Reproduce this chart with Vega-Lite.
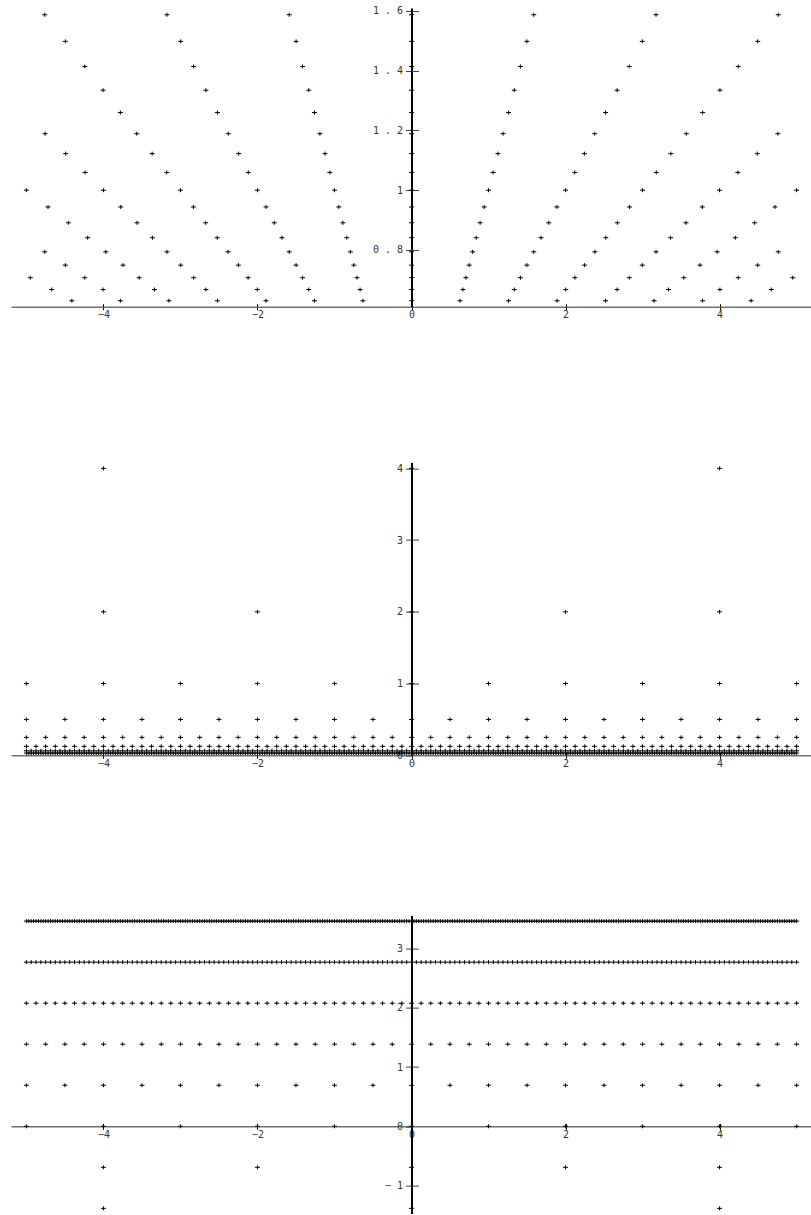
{
"$schema": "https://vega.github.io/schema/vega-lite/v6.json",
"padding": {"left": 11, "top": 5, "right": 0, "bottom": 0},
"autosize": {"type": "pad"},
"bounds": "flush",
"spacing": 155.6,
"config": {"view": {"stroke": null}, "axis": {"grid": false, "labelFont": "DejaVu Sans Mono", "labelFontSize": 10, "labelColor": "#333"}},
"datasets": {
"levels": [{"k":5,"p":0.03125,"l":3.4657},{"k":4,"p":0.0625,"l":2.7726},{"k":3,"p":0.125,"l":2.0794},{"k":2,"p":0.25,"l":1.3863},{"k":1,"p":0.5,"l":0.6931},{"k":0,"p":1,"l":0},{"k":-1,"p":2,"l":-0.6931},{"k":-2,"p":4,"l":-1.3863}],
"twelfth": [
{"x":-4.40972,"y":0.62996},{"x":-3.77976,"y":0.62996},{"x":-3.1498,"y":0.62996},{"x":-2.51984,"y":0.62996},{"x":-1.88988,"y":0.62996},{"x":-1.25992,"y":0.62996},{"x":-0.62996,"y":0.62996},{"x":0,"y":0.62996},{"x":0.62996,"y":0.62996},{"x":1.25992,"y":0.62996},{"x":1.88988,"y":0.62996},{"x":2.51984,"y":0.62996},{"x":3.1498,"y":0.62996},{"x":3.77976,"y":0.62996},{"x":4.40972,"y":0.62996},
{"x":-4.67194,"y":0.66742},{"x":-4.00452,"y":0.66742},{"x":-3.3371,"y":0.66742},{"x":-2.66968,"y":0.66742},{"x":-2.00226,"y":0.66742},{"x":-1.33484,"y":0.66742},{"x":-0.66742,"y":0.66742},{"x":0,"y":0.66742},{"x":0.66742,"y":0.66742},{"x":1.33484,"y":0.66742},{"x":2.00226,"y":0.66742},{"x":2.66968,"y":0.66742},{"x":3.3371,"y":0.66742},{"x":4.00452,"y":0.66742},{"x":4.67194,"y":0.66742},
{"x":-4.94975,"y":0.70711},{"x":-4.24264,"y":0.70711},{"x":-3.53553,"y":0.70711},{"x":-2.82843,"y":0.70711},{"x":-2.12132,"y":0.70711},{"x":-1.41421,"y":0.70711},{"x":-0.70711,"y":0.70711},{"x":0,"y":0.70711},{"x":0.70711,"y":0.70711},{"x":1.41421,"y":0.70711},{"x":2.12132,"y":0.70711},{"x":2.82843,"y":0.70711},{"x":3.53553,"y":0.70711},{"x":4.24264,"y":0.70711},{"x":4.94975,"y":0.70711},
{"x":-4.49492,"y":0.74915},{"x":-3.74577,"y":0.74915},{"x":-2.99661,"y":0.74915},{"x":-2.24746,"y":0.74915},{"x":-1.49831,"y":0.74915},{"x":-0.74915,"y":0.74915},{"x":0,"y":0.74915},{"x":0.74915,"y":0.74915},{"x":1.49831,"y":0.74915},{"x":2.24746,"y":0.74915},{"x":2.99661,"y":0.74915},{"x":3.74577,"y":0.74915},{"x":4.49492,"y":0.74915},
{"x":-4.7622,"y":0.7937},{"x":-3.9685,"y":0.7937},{"x":-3.1748,"y":0.7937},{"x":-2.3811,"y":0.7937},{"x":-1.5874,"y":0.7937},{"x":-0.7937,"y":0.7937},{"x":0,"y":0.7937},{"x":0.7937,"y":0.7937},{"x":1.5874,"y":0.7937},{"x":2.3811,"y":0.7937},{"x":3.1748,"y":0.7937},{"x":3.9685,"y":0.7937},{"x":4.7622,"y":0.7937},
{"x":-4.20448,"y":0.8409},{"x":-3.36359,"y":0.8409},{"x":-2.52269,"y":0.8409},{"x":-1.68179,"y":0.8409},{"x":-0.8409,"y":0.8409},{"x":0,"y":0.8409},{"x":0.8409,"y":0.8409},{"x":1.68179,"y":0.8409},{"x":2.52269,"y":0.8409},{"x":3.36359,"y":0.8409},{"x":4.20448,"y":0.8409},
{"x":-4.45449,"y":0.8909},{"x":-3.56359,"y":0.8909},{"x":-2.6727,"y":0.8909},{"x":-1.7818,"y":0.8909},{"x":-0.8909,"y":0.8909},{"x":0,"y":0.8909},{"x":0.8909,"y":0.8909},{"x":1.7818,"y":0.8909},{"x":2.6727,"y":0.8909},{"x":3.56359,"y":0.8909},{"x":4.45449,"y":0.8909},
{"x":-4.71937,"y":0.94387},{"x":-3.7755,"y":0.94387},{"x":-2.83162,"y":0.94387},{"x":-1.88775,"y":0.94387},{"x":-0.94387,"y":0.94387},{"x":0,"y":0.94387},{"x":0.94387,"y":0.94387},{"x":1.88775,"y":0.94387},{"x":2.83162,"y":0.94387},{"x":3.7755,"y":0.94387},{"x":4.71937,"y":0.94387},
{"x":-5,"y":1},{"x":-4,"y":1},{"x":-3,"y":1},{"x":-2,"y":1},{"x":-1,"y":1},{"x":0,"y":1},{"x":1,"y":1},{"x":2,"y":1},{"x":3,"y":1},{"x":4,"y":1},{"x":5,"y":1},
{"x":-4.23785,"y":1.05946},{"x":-3.17839,"y":1.05946},{"x":-2.11893,"y":1.05946},{"x":-1.05946,"y":1.05946},{"x":0,"y":1.05946},{"x":1.05946,"y":1.05946},{"x":2.11893,"y":1.05946},{"x":3.17839,"y":1.05946},{"x":4.23785,"y":1.05946},
{"x":-4.48985,"y":1.12246},{"x":-3.36739,"y":1.12246},{"x":-2.24492,"y":1.12246},{"x":-1.12246,"y":1.12246},{"x":0,"y":1.12246},{"x":1.12246,"y":1.12246},{"x":2.24492,"y":1.12246},{"x":3.36739,"y":1.12246},{"x":4.48985,"y":1.12246},
{"x":-4.75683,"y":1.18921},{"x":-3.56762,"y":1.18921},{"x":-2.37841,"y":1.18921},{"x":-1.18921,"y":1.18921},{"x":0,"y":1.18921},{"x":1.18921,"y":1.18921},{"x":2.37841,"y":1.18921},{"x":3.56762,"y":1.18921},{"x":4.75683,"y":1.18921},
{"x":-3.77976,"y":1.25992},{"x":-2.51984,"y":1.25992},{"x":-1.25992,"y":1.25992},{"x":0,"y":1.25992},{"x":1.25992,"y":1.25992},{"x":2.51984,"y":1.25992},{"x":3.77976,"y":1.25992},
{"x":-4.00452,"y":1.33484},{"x":-2.66968,"y":1.33484},{"x":-1.33484,"y":1.33484},{"x":0,"y":1.33484},{"x":1.33484,"y":1.33484},{"x":2.66968,"y":1.33484},{"x":4.00452,"y":1.33484},
{"x":-4.24264,"y":1.41421},{"x":-2.82843,"y":1.41421},{"x":-1.41421,"y":1.41421},{"x":0,"y":1.41421},{"x":1.41421,"y":1.41421},{"x":2.82843,"y":1.41421},{"x":4.24264,"y":1.41421},
{"x":-4.49492,"y":1.49831},{"x":-2.99661,"y":1.49831},{"x":-1.49831,"y":1.49831},{"x":0,"y":1.49831},{"x":1.49831,"y":1.49831},{"x":2.99661,"y":1.49831},{"x":4.49492,"y":1.49831},
{"x":-4.7622,"y":1.5874},{"x":-3.1748,"y":1.5874},{"x":-1.5874,"y":1.5874},{"x":0,"y":1.5874},{"x":1.5874,"y":1.5874},{"x":3.1748,"y":1.5874},{"x":4.7622,"y":1.5874}
],
"lattice": [
{"k":5,"x":-5},{"k":5,"x":-4.96875},{"k":5,"x":-4.9375},{"k":5,"x":-4.90625},{"k":5,"x":-4.875},{"k":5,"x":-4.84375},{"k":5,"x":-4.8125},{"k":5,"x":-4.78125},{"k":5,"x":-4.75},{"k":5,"x":-4.71875},{"k":5,"x":-4.6875},{"k":5,"x":-4.65625},{"k":5,"x":-4.625},{"k":5,"x":-4.59375},{"k":5,"x":-4.5625},{"k":5,"x":-4.53125},{"k":5,"x":-4.5},{"k":5,"x":-4.46875},{"k":5,"x":-4.4375},{"k":5,"x":-4.40625},{"k":5,"x":-4.375},{"k":5,"x":-4.34375},{"k":5,"x":-4.3125},{"k":5,"x":-4.28125},{"k":5,"x":-4.25},{"k":5,"x":-4.21875},{"k":5,"x":-4.1875},{"k":5,"x":-4.15625},{"k":5,"x":-4.125},{"k":5,"x":-4.09375},{"k":5,"x":-4.0625},{"k":5,"x":-4.03125},
{"k":5,"x":-4},{"k":5,"x":-3.96875},{"k":5,"x":-3.9375},{"k":5,"x":-3.90625},{"k":5,"x":-3.875},{"k":5,"x":-3.84375},{"k":5,"x":-3.8125},{"k":5,"x":-3.78125},{"k":5,"x":-3.75},{"k":5,"x":-3.71875},{"k":5,"x":-3.6875},{"k":5,"x":-3.65625},{"k":5,"x":-3.625},{"k":5,"x":-3.59375},{"k":5,"x":-3.5625},{"k":5,"x":-3.53125},{"k":5,"x":-3.5},{"k":5,"x":-3.46875},{"k":5,"x":-3.4375},{"k":5,"x":-3.40625},{"k":5,"x":-3.375},{"k":5,"x":-3.34375},{"k":5,"x":-3.3125},{"k":5,"x":-3.28125},{"k":5,"x":-3.25},{"k":5,"x":-3.21875},{"k":5,"x":-3.1875},{"k":5,"x":-3.15625},{"k":5,"x":-3.125},{"k":5,"x":-3.09375},{"k":5,"x":-3.0625},{"k":5,"x":-3.03125},
{"k":5,"x":-3},{"k":5,"x":-2.96875},{"k":5,"x":-2.9375},{"k":5,"x":-2.90625},{"k":5,"x":-2.875},{"k":5,"x":-2.84375},{"k":5,"x":-2.8125},{"k":5,"x":-2.78125},{"k":5,"x":-2.75},{"k":5,"x":-2.71875},{"k":5,"x":-2.6875},{"k":5,"x":-2.65625},{"k":5,"x":-2.625},{"k":5,"x":-2.59375},{"k":5,"x":-2.5625},{"k":5,"x":-2.53125},{"k":5,"x":-2.5},{"k":5,"x":-2.46875},{"k":5,"x":-2.4375},{"k":5,"x":-2.40625},{"k":5,"x":-2.375},{"k":5,"x":-2.34375},{"k":5,"x":-2.3125},{"k":5,"x":-2.28125},{"k":5,"x":-2.25},{"k":5,"x":-2.21875},{"k":5,"x":-2.1875},{"k":5,"x":-2.15625},{"k":5,"x":-2.125},{"k":5,"x":-2.09375},{"k":5,"x":-2.0625},{"k":5,"x":-2.03125},
{"k":5,"x":-2},{"k":5,"x":-1.96875},{"k":5,"x":-1.9375},{"k":5,"x":-1.90625},{"k":5,"x":-1.875},{"k":5,"x":-1.84375},{"k":5,"x":-1.8125},{"k":5,"x":-1.78125},{"k":5,"x":-1.75},{"k":5,"x":-1.71875},{"k":5,"x":-1.6875},{"k":5,"x":-1.65625},{"k":5,"x":-1.625},{"k":5,"x":-1.59375},{"k":5,"x":-1.5625},{"k":5,"x":-1.53125},{"k":5,"x":-1.5},{"k":5,"x":-1.46875},{"k":5,"x":-1.4375},{"k":5,"x":-1.40625},{"k":5,"x":-1.375},{"k":5,"x":-1.34375},{"k":5,"x":-1.3125},{"k":5,"x":-1.28125},{"k":5,"x":-1.25},{"k":5,"x":-1.21875},{"k":5,"x":-1.1875},{"k":5,"x":-1.15625},{"k":5,"x":-1.125},{"k":5,"x":-1.09375},{"k":5,"x":-1.0625},{"k":5,"x":-1.03125},
{"k":5,"x":-1},{"k":5,"x":-0.96875},{"k":5,"x":-0.9375},{"k":5,"x":-0.90625},{"k":5,"x":-0.875},{"k":5,"x":-0.84375},{"k":5,"x":-0.8125},{"k":5,"x":-0.78125},{"k":5,"x":-0.75},{"k":5,"x":-0.71875},{"k":5,"x":-0.6875},{"k":5,"x":-0.65625},{"k":5,"x":-0.625},{"k":5,"x":-0.59375},{"k":5,"x":-0.5625},{"k":5,"x":-0.53125},{"k":5,"x":-0.5},{"k":5,"x":-0.46875},{"k":5,"x":-0.4375},{"k":5,"x":-0.40625},{"k":5,"x":-0.375},{"k":5,"x":-0.34375},{"k":5,"x":-0.3125},{"k":5,"x":-0.28125},{"k":5,"x":-0.25},{"k":5,"x":-0.21875},{"k":5,"x":-0.1875},{"k":5,"x":-0.15625},{"k":5,"x":-0.125},{"k":5,"x":-0.09375},{"k":5,"x":-0.0625},{"k":5,"x":-0.03125},
{"k":5,"x":0},{"k":5,"x":0.03125},{"k":5,"x":0.0625},{"k":5,"x":0.09375},{"k":5,"x":0.125},{"k":5,"x":0.15625},{"k":5,"x":0.1875},{"k":5,"x":0.21875},{"k":5,"x":0.25},{"k":5,"x":0.28125},{"k":5,"x":0.3125},{"k":5,"x":0.34375},{"k":5,"x":0.375},{"k":5,"x":0.40625},{"k":5,"x":0.4375},{"k":5,"x":0.46875},{"k":5,"x":0.5},{"k":5,"x":0.53125},{"k":5,"x":0.5625},{"k":5,"x":0.59375},{"k":5,"x":0.625},{"k":5,"x":0.65625},{"k":5,"x":0.6875},{"k":5,"x":0.71875},{"k":5,"x":0.75},{"k":5,"x":0.78125},{"k":5,"x":0.8125},{"k":5,"x":0.84375},{"k":5,"x":0.875},{"k":5,"x":0.90625},{"k":5,"x":0.9375},{"k":5,"x":0.96875},
{"k":5,"x":1},{"k":5,"x":1.03125},{"k":5,"x":1.0625},{"k":5,"x":1.09375},{"k":5,"x":1.125},{"k":5,"x":1.15625},{"k":5,"x":1.1875},{"k":5,"x":1.21875},{"k":5,"x":1.25},{"k":5,"x":1.28125},{"k":5,"x":1.3125},{"k":5,"x":1.34375},{"k":5,"x":1.375},{"k":5,"x":1.40625},{"k":5,"x":1.4375},{"k":5,"x":1.46875},{"k":5,"x":1.5},{"k":5,"x":1.53125},{"k":5,"x":1.5625},{"k":5,"x":1.59375},{"k":5,"x":1.625},{"k":5,"x":1.65625},{"k":5,"x":1.6875},{"k":5,"x":1.71875},{"k":5,"x":1.75},{"k":5,"x":1.78125},{"k":5,"x":1.8125},{"k":5,"x":1.84375},{"k":5,"x":1.875},{"k":5,"x":1.90625},{"k":5,"x":1.9375},{"k":5,"x":1.96875},
{"k":5,"x":2},{"k":5,"x":2.03125},{"k":5,"x":2.0625},{"k":5,"x":2.09375},{"k":5,"x":2.125},{"k":5,"x":2.15625},{"k":5,"x":2.1875},{"k":5,"x":2.21875},{"k":5,"x":2.25},{"k":5,"x":2.28125},{"k":5,"x":2.3125},{"k":5,"x":2.34375},{"k":5,"x":2.375},{"k":5,"x":2.40625},{"k":5,"x":2.4375},{"k":5,"x":2.46875},{"k":5,"x":2.5},{"k":5,"x":2.53125},{"k":5,"x":2.5625},{"k":5,"x":2.59375},{"k":5,"x":2.625},{"k":5,"x":2.65625},{"k":5,"x":2.6875},{"k":5,"x":2.71875},{"k":5,"x":2.75},{"k":5,"x":2.78125},{"k":5,"x":2.8125},{"k":5,"x":2.84375},{"k":5,"x":2.875},{"k":5,"x":2.90625},{"k":5,"x":2.9375},{"k":5,"x":2.96875},
{"k":5,"x":3},{"k":5,"x":3.03125},{"k":5,"x":3.0625},{"k":5,"x":3.09375},{"k":5,"x":3.125},{"k":5,"x":3.15625},{"k":5,"x":3.1875},{"k":5,"x":3.21875},{"k":5,"x":3.25},{"k":5,"x":3.28125},{"k":5,"x":3.3125},{"k":5,"x":3.34375},{"k":5,"x":3.375},{"k":5,"x":3.40625},{"k":5,"x":3.4375},{"k":5,"x":3.46875},{"k":5,"x":3.5},{"k":5,"x":3.53125},{"k":5,"x":3.5625},{"k":5,"x":3.59375},{"k":5,"x":3.625},{"k":5,"x":3.65625},{"k":5,"x":3.6875},{"k":5,"x":3.71875},{"k":5,"x":3.75},{"k":5,"x":3.78125},{"k":5,"x":3.8125},{"k":5,"x":3.84375},{"k":5,"x":3.875},{"k":5,"x":3.90625},{"k":5,"x":3.9375},{"k":5,"x":3.96875},
{"k":5,"x":4},{"k":5,"x":4.03125},{"k":5,"x":4.0625},{"k":5,"x":4.09375},{"k":5,"x":4.125},{"k":5,"x":4.15625},{"k":5,"x":4.1875},{"k":5,"x":4.21875},{"k":5,"x":4.25},{"k":5,"x":4.28125},{"k":5,"x":4.3125},{"k":5,"x":4.34375},{"k":5,"x":4.375},{"k":5,"x":4.40625},{"k":5,"x":4.4375},{"k":5,"x":4.46875},{"k":5,"x":4.5},{"k":5,"x":4.53125},{"k":5,"x":4.5625},{"k":5,"x":4.59375},{"k":5,"x":4.625},{"k":5,"x":4.65625},{"k":5,"x":4.6875},{"k":5,"x":4.71875},{"k":5,"x":4.75},{"k":5,"x":4.78125},{"k":5,"x":4.8125},{"k":5,"x":4.84375},{"k":5,"x":4.875},{"k":5,"x":4.90625},{"k":5,"x":4.9375},{"k":5,"x":4.96875},
{"k":5,"x":5},
{"k":4,"x":-5},{"k":4,"x":-4.9375},{"k":4,"x":-4.875},{"k":4,"x":-4.8125},{"k":4,"x":-4.75},{"k":4,"x":-4.6875},{"k":4,"x":-4.625},{"k":4,"x":-4.5625},{"k":4,"x":-4.5},{"k":4,"x":-4.4375},{"k":4,"x":-4.375},{"k":4,"x":-4.3125},{"k":4,"x":-4.25},{"k":4,"x":-4.1875},{"k":4,"x":-4.125},{"k":4,"x":-4.0625},
{"k":4,"x":-4},{"k":4,"x":-3.9375},{"k":4,"x":-3.875},{"k":4,"x":-3.8125},{"k":4,"x":-3.75},{"k":4,"x":-3.6875},{"k":4,"x":-3.625},{"k":4,"x":-3.5625},{"k":4,"x":-3.5},{"k":4,"x":-3.4375},{"k":4,"x":-3.375},{"k":4,"x":-3.3125},{"k":4,"x":-3.25},{"k":4,"x":-3.1875},{"k":4,"x":-3.125},{"k":4,"x":-3.0625},
{"k":4,"x":-3},{"k":4,"x":-2.9375},{"k":4,"x":-2.875},{"k":4,"x":-2.8125},{"k":4,"x":-2.75},{"k":4,"x":-2.6875},{"k":4,"x":-2.625},{"k":4,"x":-2.5625},{"k":4,"x":-2.5},{"k":4,"x":-2.4375},{"k":4,"x":-2.375},{"k":4,"x":-2.3125},{"k":4,"x":-2.25},{"k":4,"x":-2.1875},{"k":4,"x":-2.125},{"k":4,"x":-2.0625},
{"k":4,"x":-2},{"k":4,"x":-1.9375},{"k":4,"x":-1.875},{"k":4,"x":-1.8125},{"k":4,"x":-1.75},{"k":4,"x":-1.6875},{"k":4,"x":-1.625},{"k":4,"x":-1.5625},{"k":4,"x":-1.5},{"k":4,"x":-1.4375},{"k":4,"x":-1.375},{"k":4,"x":-1.3125},{"k":4,"x":-1.25},{"k":4,"x":-1.1875},{"k":4,"x":-1.125},{"k":4,"x":-1.0625},
{"k":4,"x":-1},{"k":4,"x":-0.9375},{"k":4,"x":-0.875},{"k":4,"x":-0.8125},{"k":4,"x":-0.75},{"k":4,"x":-0.6875},{"k":4,"x":-0.625},{"k":4,"x":-0.5625},{"k":4,"x":-0.5},{"k":4,"x":-0.4375},{"k":4,"x":-0.375},{"k":4,"x":-0.3125},{"k":4,"x":-0.25},{"k":4,"x":-0.1875},{"k":4,"x":-0.125},{"k":4,"x":-0.0625},
{"k":4,"x":0},{"k":4,"x":0.0625},{"k":4,"x":0.125},{"k":4,"x":0.1875},{"k":4,"x":0.25},{"k":4,"x":0.3125},{"k":4,"x":0.375},{"k":4,"x":0.4375},{"k":4,"x":0.5},{"k":4,"x":0.5625},{"k":4,"x":0.625},{"k":4,"x":0.6875},{"k":4,"x":0.75},{"k":4,"x":0.8125},{"k":4,"x":0.875},{"k":4,"x":0.9375},
{"k":4,"x":1},{"k":4,"x":1.0625},{"k":4,"x":1.125},{"k":4,"x":1.1875},{"k":4,"x":1.25},{"k":4,"x":1.3125},{"k":4,"x":1.375},{"k":4,"x":1.4375},{"k":4,"x":1.5},{"k":4,"x":1.5625},{"k":4,"x":1.625},{"k":4,"x":1.6875},{"k":4,"x":1.75},{"k":4,"x":1.8125},{"k":4,"x":1.875},{"k":4,"x":1.9375},
{"k":4,"x":2},{"k":4,"x":2.0625},{"k":4,"x":2.125},{"k":4,"x":2.1875},{"k":4,"x":2.25},{"k":4,"x":2.3125},{"k":4,"x":2.375},{"k":4,"x":2.4375},{"k":4,"x":2.5},{"k":4,"x":2.5625},{"k":4,"x":2.625},{"k":4,"x":2.6875},{"k":4,"x":2.75},{"k":4,"x":2.8125},{"k":4,"x":2.875},{"k":4,"x":2.9375},
{"k":4,"x":3},{"k":4,"x":3.0625},{"k":4,"x":3.125},{"k":4,"x":3.1875},{"k":4,"x":3.25},{"k":4,"x":3.3125},{"k":4,"x":3.375},{"k":4,"x":3.4375},{"k":4,"x":3.5},{"k":4,"x":3.5625},{"k":4,"x":3.625},{"k":4,"x":3.6875},{"k":4,"x":3.75},{"k":4,"x":3.8125},{"k":4,"x":3.875},{"k":4,"x":3.9375},
{"k":4,"x":4},{"k":4,"x":4.0625},{"k":4,"x":4.125},{"k":4,"x":4.1875},{"k":4,"x":4.25},{"k":4,"x":4.3125},{"k":4,"x":4.375},{"k":4,"x":4.4375},{"k":4,"x":4.5},{"k":4,"x":4.5625},{"k":4,"x":4.625},{"k":4,"x":4.6875},{"k":4,"x":4.75},{"k":4,"x":4.8125},{"k":4,"x":4.875},{"k":4,"x":4.9375},
{"k":4,"x":5},
{"k":3,"x":-5},{"k":3,"x":-4.875},{"k":3,"x":-4.75},{"k":3,"x":-4.625},{"k":3,"x":-4.5},{"k":3,"x":-4.375},{"k":3,"x":-4.25},{"k":3,"x":-4.125},
{"k":3,"x":-4},{"k":3,"x":-3.875},{"k":3,"x":-3.75},{"k":3,"x":-3.625},{"k":3,"x":-3.5},{"k":3,"x":-3.375},{"k":3,"x":-3.25},{"k":3,"x":-3.125},
{"k":3,"x":-3},{"k":3,"x":-2.875},{"k":3,"x":-2.75},{"k":3,"x":-2.625},{"k":3,"x":-2.5},{"k":3,"x":-2.375},{"k":3,"x":-2.25},{"k":3,"x":-2.125},
{"k":3,"x":-2},{"k":3,"x":-1.875},{"k":3,"x":-1.75},{"k":3,"x":-1.625},{"k":3,"x":-1.5},{"k":3,"x":-1.375},{"k":3,"x":-1.25},{"k":3,"x":-1.125},
{"k":3,"x":-1},{"k":3,"x":-0.875},{"k":3,"x":-0.75},{"k":3,"x":-0.625},{"k":3,"x":-0.5},{"k":3,"x":-0.375},{"k":3,"x":-0.25},{"k":3,"x":-0.125},
{"k":3,"x":0},{"k":3,"x":0.125},{"k":3,"x":0.25},{"k":3,"x":0.375},{"k":3,"x":0.5},{"k":3,"x":0.625},{"k":3,"x":0.75},{"k":3,"x":0.875},
{"k":3,"x":1},{"k":3,"x":1.125},{"k":3,"x":1.25},{"k":3,"x":1.375},{"k":3,"x":1.5},{"k":3,"x":1.625},{"k":3,"x":1.75},{"k":3,"x":1.875},
{"k":3,"x":2},{"k":3,"x":2.125},{"k":3,"x":2.25},{"k":3,"x":2.375},{"k":3,"x":2.5},{"k":3,"x":2.625},{"k":3,"x":2.75},{"k":3,"x":2.875},
{"k":3,"x":3},{"k":3,"x":3.125},{"k":3,"x":3.25},{"k":3,"x":3.375},{"k":3,"x":3.5},{"k":3,"x":3.625},{"k":3,"x":3.75},{"k":3,"x":3.875},
{"k":3,"x":4},{"k":3,"x":4.125},{"k":3,"x":4.25},{"k":3,"x":4.375},{"k":3,"x":4.5},{"k":3,"x":4.625},{"k":3,"x":4.75},{"k":3,"x":4.875},
{"k":3,"x":5},
{"k":2,"x":-5},{"k":2,"x":-4.75},{"k":2,"x":-4.5},{"k":2,"x":-4.25},{"k":2,"x":-4},{"k":2,"x":-3.75},{"k":2,"x":-3.5},{"k":2,"x":-3.25},{"k":2,"x":-3},{"k":2,"x":-2.75},{"k":2,"x":-2.5},{"k":2,"x":-2.25},{"k":2,"x":-2},{"k":2,"x":-1.75},{"k":2,"x":-1.5},{"k":2,"x":-1.25},{"k":2,"x":-1},{"k":2,"x":-0.75},{"k":2,"x":-0.5},{"k":2,"x":-0.25},
{"k":2,"x":0},{"k":2,"x":0.25},{"k":2,"x":0.5},{"k":2,"x":0.75},{"k":2,"x":1},{"k":2,"x":1.25},{"k":2,"x":1.5},{"k":2,"x":1.75},{"k":2,"x":2},{"k":2,"x":2.25},{"k":2,"x":2.5},{"k":2,"x":2.75},{"k":2,"x":3},{"k":2,"x":3.25},{"k":2,"x":3.5},{"k":2,"x":3.75},{"k":2,"x":4},{"k":2,"x":4.25},{"k":2,"x":4.5},{"k":2,"x":4.75},{"k":2,"x":5},
{"k":1,"x":-5},{"k":1,"x":-4.5},{"k":1,"x":-4},{"k":1,"x":-3.5},{"k":1,"x":-3},{"k":1,"x":-2.5},{"k":1,"x":-2},{"k":1,"x":-1.5},{"k":1,"x":-1},{"k":1,"x":-0.5},{"k":1,"x":0},{"k":1,"x":0.5},{"k":1,"x":1},{"k":1,"x":1.5},{"k":1,"x":2},{"k":1,"x":2.5},{"k":1,"x":3},{"k":1,"x":3.5},{"k":1,"x":4},{"k":1,"x":4.5},{"k":1,"x":5},
{"k":0,"x":-5},{"k":0,"x":-4},{"k":0,"x":-3},{"k":0,"x":-2},{"k":0,"x":-1},{"k":0,"x":0},{"k":0,"x":1},{"k":0,"x":2},{"k":0,"x":3},{"k":0,"x":4},{"k":0,"x":5},
{"k":-1,"x":-4},{"k":-1,"x":-2},{"k":-1,"x":0},{"k":-1,"x":2},{"k":-1,"x":4},
{"k":-2,"x":-4},{"k":-2,"x":0},{"k":-2,"x":4}
]
},
"vconcat": [
{
"width": 801, "height": 298.7,
"data": {"name": "twelfth"},
"layer": [
{"mark": {"type": "point", "shape": "M-1,0H1M0,-0.8V0.8", "size": 25, "filled": false, "stroke": "#000", "strokeWidth": 1, "opacity": 1},
 "encoding": {
  "x": {"field": "x", "type": "quantitative", "scale": {"domain": [-5.2, 5.2], "nice": false, "zero": false},
        "axis": {"orient": "bottom", "title": null, "values": [-4, -2, 0, 2, 4], "domainColor": "#707070", "domainWidth": 1.5, "tickColor": "#000", "tickSize": 3, "labelPadding": 0, "labelFlush": false, "labelOverlap": false}},
  "y": {"field": "y", "type": "quantitative", "scale": {"domain": [0.61, 1.61], "nice": false, "zero": false},
        "axis": {"orient": "left", "offset": -400.5, "title": null, "values": [0.8, 1, 1.2, 1.4, 1.6], "domainColor": "#000", "domainWidth": 2, "tickColor": "#444", "tickSize": 6, "labelPadding": 3, "labelFlush": false, "labelOverlap": false, "labelExpr": "replace(format(datum.value, '~g'), '.', ' . ')"}}
 }},
{"mark": {"type": "point", "opacity": 0},
 "encoding": {
  "x": {"field": "x", "type": "quantitative", "axis": {"orient": "top", "offset": -298.7, "title": null, "values": [-4, -2, 0, 2, 4], "domain": false, "labels": false, "tickColor": "#000", "tickSize": 3}},
  "y": {"field": "y", "type": "quantitative", "axis": {"orient": "right", "offset": -400.5, "title": null, "values": [0.8, 1, 1.2, 1.4, 1.6], "domain": false, "labels": false, "tickColor": "#444", "tickSize": 7}}
 }}
]
},
{
"vconcat": [
{
"width": 801, "height": 292.7,
"data": {"name": "lattice"},
"transform": [{"lookup": "k", "from": {"data": {"name": "levels"}, "key": "k", "fields": ["p", "l"]}}],
"layer": [
{"mark": {"type": "point", "shape": "M-1,0H1M0,-0.8V0.8", "size": 25, "filled": false, "stroke": "#000", "strokeWidth": 1, "opacity": 1},
 "encoding": {
  "x": {"field": "x", "type": "quantitative", "scale": {"domain": [-5.2, 5.2], "nice": false, "zero": false},
        "axis": {"orient": "bottom", "title": null, "values": [-4, -2, 0, 2, 4], "domainColor": "#707070", "domainWidth": 1.5, "tickColor": "#000", "tickSize": 3, "labelPadding": 0, "labelFlush": false, "labelOverlap": false}},
  "y": {"field": "p", "type": "quantitative", "scale": {"domain": [0, 4.08], "nice": false, "zero": false},
        "axis": {"orient": "left", "offset": -400.5, "title": null, "values": [0, 1, 2, 3, 4], "domainColor": "#000", "domainWidth": 2, "tickColor": "#444", "tickSize": 6, "labelPadding": 3, "labelFlush": false, "labelOverlap": false, "labelExpr": "format(datum.value, '~g')"}}
 }},
{"mark": {"type": "point", "opacity": 0},
 "encoding": {
  "x": {"field": "x", "type": "quantitative", "axis": {"orient": "top", "offset": -292.7, "title": null, "values": [-4, -2, 0, 2, 4], "domain": false, "labels": false, "tickColor": "#000", "tickSize": 3}},
  "y": {"field": "p", "type": "quantitative", "axis": {"orient": "right", "offset": -400.5, "title": null, "values": [1, 2, 3, 4], "domain": false, "labels": false, "tickColor": "#444", "tickSize": 7}}
 }}
]
},
{
"width": 801, "height": 298,
"data": {"name": "lattice"},
"transform": [{"lookup": "k", "from": {"data": {"name": "levels"}, "key": "k", "fields": ["p", "l"]}}],
"layer": [
{"mark": {"type": "point", "shape": "M-1,0H1M0,-0.8V0.8", "size": 25, "filled": false, "stroke": "#000", "strokeWidth": 1, "opacity": 1},
 "encoding": {
  "x": {"field": "x", "type": "quantitative", "scale": {"domain": [-5.2, 5.2], "nice": false, "zero": false},
        "axis": {"orient": "bottom", "offset": -87.3, "title": null, "values": [-4, -2, 0, 2, 4], "domainColor": "#707070", "domainWidth": 1.5, "tickColor": "#000", "tickSize": 3, "labelPadding": 0, "labelFlush": false, "labelOverlap": false}},
  "y": {"field": "l", "type": "quantitative", "scale": {"domain": [-1.475, 3.559], "nice": false, "zero": false},
        "axis": {"orient": "left", "offset": -400.5, "title": null, "values": [-1, 0, 1, 2, 3], "domainColor": "#000", "domainWidth": 2, "tickColor": "#444", "tickSize": 6, "labelPadding": 3, "labelFlush": false, "labelOverlap": false, "labelExpr": "replace(format(datum.value, '~g'), '−', '− ')"}}
 }},
{"mark": {"type": "point", "opacity": 0},
 "encoding": {
  "x": {"field": "x", "type": "quantitative", "axis": {"orient": "top", "offset": -210.7, "title": null, "values": [-4, -2, 0, 2, 4], "domain": false, "labels": false, "tickColor": "#000", "tickSize": 3}},
  "y": {"field": "l", "type": "quantitative", "axis": {"orient": "right", "offset": -400.5, "title": null, "values": [-1, 1, 2, 3], "domain": false, "labels": false, "tickColor": "#444", "tickSize": 7}}
 }}
]
}
],
"spacing": 160,
"bounds": "flush"
}
]
}
